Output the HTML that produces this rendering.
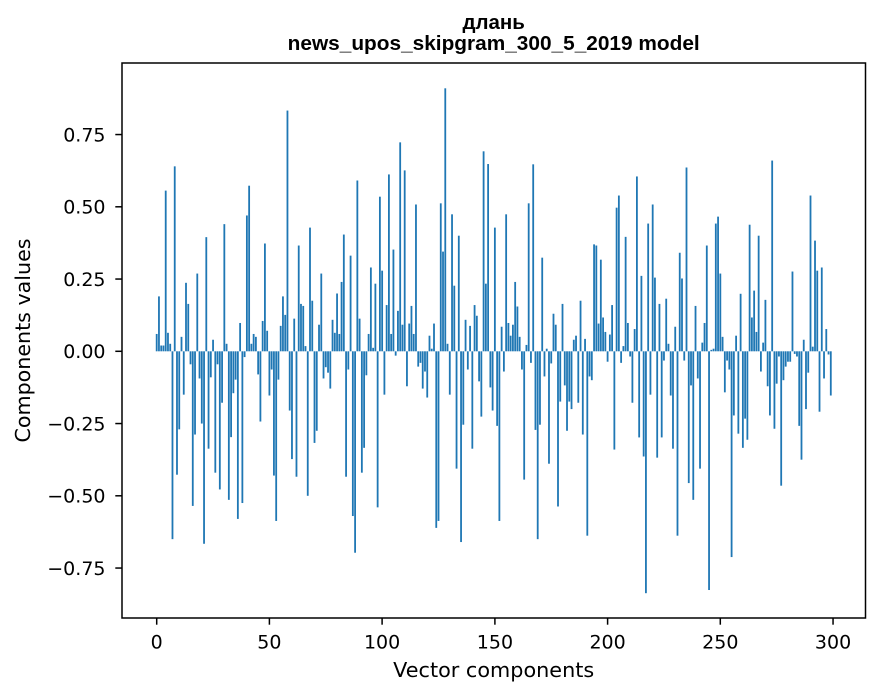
<!DOCTYPE html>
<html><head><meta charset="utf-8"><style>
html,body{margin:0;padding:0;background:#fff;}
svg{display:block;}
text{font-family:"DejaVu Sans","Liberation Sans",sans-serif;fill:#000;}
.ttl{font-family:"Liberation Sans","DejaVu Sans",sans-serif;font-weight:bold;}
</style></head><body>
<svg width="880" height="696" viewBox="0 0 880 696" xmlns="http://www.w3.org/2000/svg">
<rect x="0" y="0" width="880" height="696" fill="#fff"/>
<g transform="translate(155.795 351.3) scale(2.2545 -289)" fill="#1f77b4">
<rect x="0" y="0" width=".8" height=".06"/>
<rect x="1" y="0" width=".8" height=".19"/>
<rect x="2" y="0" width=".8" height=".02"/>
<rect x="3" y="0" width=".8" height=".02"/>
<rect x="4" y="0" width=".8" height=".556"/>
<rect x="5" y="0" width=".8" height=".064"/>
<rect x="6" y="0" width=".8" height=".026"/>
<rect x="7" y="-.65" width=".8" height=".65"/>
<rect x="8" y="0" width=".8" height=".64"/>
<rect x="9" y="-.427" width=".8" height=".427"/>
<rect x="10" y="-.27" width=".8" height=".27"/>
<rect x="11" y="0" width=".8" height=".05"/>
<rect x="12" y="-.15" width=".8" height=".15"/>
<rect x="13" y="0" width=".8" height=".237"/>
<rect x="14" y="0" width=".8" height=".164"/>
<rect x="15" y="-.045" width=".8" height=".045"/>
<rect x="16" y="-.535" width=".8" height=".535"/>
<rect x="17" y="-.288" width=".8" height=".288"/>
<rect x="18" y="0" width=".8" height=".269"/>
<rect x="19" y="-.094" width=".8" height=".094"/>
<rect x="20" y="-.25" width=".8" height=".25"/>
<rect x="21" y="-.666" width=".8" height=".666"/>
<rect x="22" y="0" width=".8" height=".395"/>
<rect x="23" y="-.337" width=".8" height=".337"/>
<rect x="24" y="-.09" width=".8" height=".09"/>
<rect x="25" y="0" width=".8" height=".04"/>
<rect x="26" y="-.42" width=".8" height=".42"/>
<rect x="27" y="-.045" width=".8" height=".045"/>
<rect x="28" y="-.478" width=".8" height=".478"/>
<rect x="29" y="-.178" width=".8" height=".178"/>
<rect x="30" y="0" width=".8" height=".44"/>
<rect x="31" y="0" width=".8" height=".026"/>
<rect x="32" y="-.514" width=".8" height=".514"/>
<rect x="33" y="-.297" width=".8" height=".297"/>
<rect x="34" y="-.145" width=".8" height=".145"/>
<rect x="35" y="-.098" width=".8" height=".098"/>
<rect x="36" y="-.58" width=".8" height=".58"/>
<rect x="37" y="0" width=".8" height=".098"/>
<rect x="38" y="-.525" width=".8" height=".525"/>
<rect x="39" y="-.02" width=".8" height=".02"/>
<rect x="40" y="0" width=".8" height=".47"/>
<rect x="41" y="0" width=".8" height=".573"/>
<rect x="42" y="0" width=".8" height=".026"/>
<rect x="43" y="0" width=".8" height=".06"/>
<rect x="44" y="0" width=".8" height=".05"/>
<rect x="45" y="-.08" width=".8" height=".08"/>
<rect x="46" y="-.243" width=".8" height=".243"/>
<rect x="47" y="0" width=".8" height=".105"/>
<rect x="48" y="0" width=".8" height=".373"/>
<rect x="49" y="0" width=".8" height=".071"/>
<rect x="50" y="-.153" width=".8" height=".153"/>
<rect x="51" y="-.063" width=".8" height=".063"/>
<rect x="52" y="-.43" width=".8" height=".43"/>
<rect x="53" y="-.587" width=".8" height=".587"/>
<rect x="54" y="-.098" width=".8" height=".098"/>
<rect x="55" y="0" width=".8" height=".088"/>
<rect x="56" y="0" width=".8" height=".19"/>
<rect x="57" y="0" width=".8" height=".126"/>
<rect x="58" y="0" width=".8" height=".833"/>
<rect x="59" y="-.205" width=".8" height=".205"/>
<rect x="60" y="-.373" width=".8" height=".373"/>
<rect x="61" y="0" width=".8" height=".113"/>
<rect x="62" y="-.434" width=".8" height=".434"/>
<rect x="63" y="0" width=".8" height=".366"/>
<rect x="64" y="0" width=".8" height=".164"/>
<rect x="65" y="0" width=".8" height=".157"/>
<rect x="66" y="0" width=".8" height=".018"/>
<rect x="67" y="-.5" width=".8" height=".5"/>
<rect x="68" y="0" width=".8" height=".428"/>
<rect x="69" y="0" width=".8" height=".175"/>
<rect x="70" y="-.317" width=".8" height=".317"/>
<rect x="71" y="-.275" width=".8" height=".275"/>
<rect x="72" y="0" width=".8" height=".092"/>
<rect x="73" y="0" width=".8" height=".269"/>
<rect x="74" y="-.094" width=".8" height=".094"/>
<rect x="75" y="-.055" width=".8" height=".055"/>
<rect x="76" y="-.074" width=".8" height=".074"/>
<rect x="77" y="-.129" width=".8" height=".129"/>
<rect x="78" y="0" width=".8" height=".109"/>
<rect x="79" y="0" width=".8" height=".064"/>
<rect x="80" y="0" width=".8" height=".2"/>
<rect x="81" y="0" width=".8" height=".06"/>
<rect x="82" y="0" width=".8" height=".24"/>
<rect x="83" y="0" width=".8" height=".404"/>
<rect x="84" y="-.434" width=".8" height=".434"/>
<rect x="85" y="-.063" width=".8" height=".063"/>
<rect x="86" y="0" width=".8" height=".331"/>
<rect x="87" y="-.57" width=".8" height=".57"/>
<rect x="88" y="-.697" width=".8" height=".697"/>
<rect x="89" y="0" width=".8" height=".591"/>
<rect x="90" y="0" width=".8" height=".113"/>
<rect x="91" y="-.42" width=".8" height=".42"/>
<rect x="92" y="-.334" width=".8" height=".334"/>
<rect x="93" y="-.083" width=".8" height=".083"/>
<rect x="94" y="0" width=".8" height=".06"/>
<rect x="95" y="0" width=".8" height=".29"/>
<rect x="96" y="0" width=".8" height=".012"/>
<rect x="97" y="0" width=".8" height=".234"/>
<rect x="98" y="-.54" width=".8" height=".54"/>
<rect x="99" y="0" width=".8" height=".535"/>
<rect x="100" y="0" width=".8" height=".279"/>
<rect x="101" y="-.15" width=".8" height=".15"/>
<rect x="102" y="0" width=".8" height=".16"/>
<rect x="103" y="0" width=".8" height=".612"/>
<rect x="104" y="0" width=".8" height=".06"/>
<rect x="105" y="0" width=".8" height=".352"/>
<rect x="106" y="-.015" width=".8" height=".015"/>
<rect x="107" y="0" width=".8" height=".14"/>
<rect x="108" y="0" width=".8" height=".723"/>
<rect x="109" y="0" width=".8" height=".092"/>
<rect x="110" y="0" width=".8" height=".626"/>
<rect x="111" y="-.121" width=".8" height=".121"/>
<rect x="112" y="0" width=".8" height=".096"/>
<rect x="113" y="0" width=".8" height=".157"/>
<rect x="114" y="0" width=".8" height=".06"/>
<rect x="115" y="0" width=".8" height=".508"/>
<rect x="116" y="-.053" width=".8" height=".053"/>
<rect x="117" y="-.04" width=".8" height=".04"/>
<rect x="118" y="-.129" width=".8" height=".129"/>
<rect x="119" y="-.07" width=".8" height=".07"/>
<rect x="120" y="-.16" width=".8" height=".16"/>
<rect x="121" y="0" width=".8" height=".054"/>
<rect x="122" y="0" width=".8" height=".009"/>
<rect x="123" y="0" width=".8" height=".096"/>
<rect x="124" y="-.611" width=".8" height=".611"/>
<rect x="125" y="-.587" width=".8" height=".587"/>
<rect x="126" y="0" width=".8" height=".512"/>
<rect x="127" y="0" width=".8" height=".345"/>
<rect x="128" y="0" width=".8" height=".91"/>
<rect x="129" y="0" width=".8" height=".026"/>
<rect x="130" y="-.15" width=".8" height=".15"/>
<rect x="131" y="0" width=".8" height=".474"/>
<rect x="132" y="0" width=".8" height=".227"/>
<rect x="133" y="-.406" width=".8" height=".406"/>
<rect x="134" y="0" width=".8" height=".4"/>
<rect x="135" y="-.66" width=".8" height=".66"/>
<rect x="136" y="-.254" width=".8" height=".254"/>
<rect x="137" y="0" width=".8" height=".109"/>
<rect x="138" y="-.063" width=".8" height=".063"/>
<rect x="139" y="0" width=".8" height=".088"/>
<rect x="140" y="-.337" width=".8" height=".337"/>
<rect x="141" y="0" width=".8" height=".16"/>
<rect x="142" y="0" width=".8" height=".123"/>
<rect x="143" y="-.104" width=".8" height=".104"/>
<rect x="144" y="-.226" width=".8" height=".226"/>
<rect x="145" y="0" width=".8" height=".692"/>
<rect x="146" y="0" width=".8" height=".234"/>
<rect x="147" y="0" width=".8" height=".648"/>
<rect x="148" y="-.125" width=".8" height=".125"/>
<rect x="149" y="-.205" width=".8" height=".205"/>
<rect x="150" y="0" width=".8" height=".428"/>
<rect x="151" y="-.258" width=".8" height=".258"/>
<rect x="152" y="-.587" width=".8" height=".587"/>
<rect x="153" y="0" width=".8" height=".085"/>
<rect x="154" y="-.07" width=".8" height=".07"/>
<rect x="155" y="0" width=".8" height=".474"/>
<rect x="156" y="0" width=".8" height=".098"/>
<rect x="157" y="0" width=".8" height=".054"/>
<rect x="158" y="0" width=".8" height=".092"/>
<rect x="159" y="0" width=".8" height=".24"/>
<rect x="160" y="0" width=".8" height=".155"/>
<rect x="161" y="0" width=".8" height=".05"/>
<rect x="162" y="-.063" width=".8" height=".063"/>
<rect x="163" y="-.444" width=".8" height=".444"/>
<rect x="164" y="0" width=".8" height=".022"/>
<rect x="165" y="0" width=".8" height=".512"/>
<rect x="166" y="-.04" width=".8" height=".04"/>
<rect x="167" y="0" width=".8" height=".647"/>
<rect x="168" y="-.272" width=".8" height=".272"/>
<rect x="169" y="-.65" width=".8" height=".65"/>
<rect x="170" y="-.254" width=".8" height=".254"/>
<rect x="171" y="0" width=".8" height=".324"/>
<rect x="172" y="-.087" width=".8" height=".087"/>
<rect x="173" y="0" width=".8" height=".009"/>
<rect x="174" y="-.389" width=".8" height=".389"/>
<rect x="175" y="-.042" width=".8" height=".042"/>
<rect x="176" y="0" width=".8" height=".13"/>
<rect x="177" y="0" width=".8" height=".092"/>
<rect x="178" y="-.537" width=".8" height=".537"/>
<rect x="179" y="-.174" width=".8" height=".174"/>
<rect x="180" y="0" width=".8" height=".164"/>
<rect x="181" y="-.118" width=".8" height=".118"/>
<rect x="182" y="-.275" width=".8" height=".275"/>
<rect x="183" y="-.174" width=".8" height=".174"/>
<rect x="184" y="-.2" width=".8" height=".2"/>
<rect x="185" y="0" width=".8" height=".04"/>
<rect x="186" y="0" width=".8" height=".054"/>
<rect x="187" y="-.178" width=".8" height=".178"/>
<rect x="188" y="0" width=".8" height=".175"/>
<rect x="189" y="-.288" width=".8" height=".288"/>
<rect x="190" y="0" width=".8" height=".043"/>
<rect x="191" y="-.638" width=".8" height=".638"/>
<rect x="192" y="-.087" width=".8" height=".087"/>
<rect x="193" y="-.1" width=".8" height=".1"/>
<rect x="194" y="0" width=".8" height=".37"/>
<rect x="195" y="0" width=".8" height=".366"/>
<rect x="196" y="0" width=".8" height=".096"/>
<rect x="197" y="0" width=".8" height=".317"/>
<rect x="198" y="0" width=".8" height=".117"/>
<rect x="199" y="0" width=".8" height=".067"/>
<rect x="200" y="-.036" width=".8" height=".036"/>
<rect x="201" y="0" width=".8" height=".058"/>
<rect x="202" y="0" width=".8" height=".16"/>
<rect x="203" y="-.34" width=".8" height=".34"/>
<rect x="204" y="0" width=".8" height=".497"/>
<rect x="205" y="0" width=".8" height=".539"/>
<rect x="206" y="-.04" width=".8" height=".04"/>
<rect x="207" y="0" width=".8" height=".018"/>
<rect x="208" y="0" width=".8" height=".396"/>
<rect x="209" y="0" width=".8" height=".098"/>
<rect x="210" y="-.018" width=".8" height=".018"/>
<rect x="211" y="-.178" width=".8" height=".178"/>
<rect x="212" y="0" width=".8" height=".077"/>
<rect x="213" y="0" width=".8" height=".605"/>
<rect x="214" y="-.298" width=".8" height=".298"/>
<rect x="215" y="0" width=".8" height=".261"/>
<rect x="216" y="-.364" width=".8" height=".364"/>
<rect x="217" y="-.837" width=".8" height=".837"/>
<rect x="218" y="0" width=".8" height=".442"/>
<rect x="219" y="-.15" width=".8" height=".15"/>
<rect x="220" y="0" width=".8" height=".508"/>
<rect x="221" y="0" width=".8" height=".255"/>
<rect x="222" y="-.368" width=".8" height=".368"/>
<rect x="223" y="0" width=".8" height=".164"/>
<rect x="224" y="-.298" width=".8" height=".298"/>
<rect x="225" y="-.032" width=".8" height=".032"/>
<rect x="226" y="0" width=".8" height=".182"/>
<rect x="227" y="0" width=".8" height=".026"/>
<rect x="228" y="-.153" width=".8" height=".153"/>
<rect x="229" y="-.337" width=".8" height=".337"/>
<rect x="230" y="0" width=".8" height=".085"/>
<rect x="231" y="-.638" width=".8" height=".638"/>
<rect x="232" y="0" width=".8" height=".341"/>
<rect x="233" y="0" width=".8" height=".252"/>
<rect x="234" y="-.032" width=".8" height=".032"/>
<rect x="235" y="0" width=".8" height=".636"/>
<rect x="236" y="-.456" width=".8" height=".456"/>
<rect x="237" y="-.118" width=".8" height=".118"/>
<rect x="238" y="-.514" width=".8" height=".514"/>
<rect x="239" y="0" width=".8" height=".157"/>
<rect x="240" y="-.094" width=".8" height=".094"/>
<rect x="241" y="-.406" width=".8" height=".406"/>
<rect x="242" y="0" width=".8" height=".03"/>
<rect x="243" y="0" width=".8" height=".098"/>
<rect x="244" y="0" width=".8" height=".366"/>
<rect x="245" y="-.826" width=".8" height=".826"/>
<rect x="246" y="0" width=".8" height=".005"/>
<rect x="247" y="0" width=".8" height=".009"/>
<rect x="248" y="0" width=".8" height=".442"/>
<rect x="249" y="0" width=".8" height=".466"/>
<rect x="250" y="0" width=".8" height=".269"/>
<rect x="251" y="0" width=".8" height=".05"/>
<rect x="252" y="-.142" width=".8" height=".142"/>
<rect x="253" y="-.032" width=".8" height=".032"/>
<rect x="254" y="-.063" width=".8" height=".063"/>
<rect x="255" y="-.712" width=".8" height=".712"/>
<rect x="256" y="-.222" width=".8" height=".222"/>
<rect x="257" y="0" width=".8" height=".054"/>
<rect x="258" y="-.285" width=".8" height=".285"/>
<rect x="259" y="0" width=".8" height=".199"/>
<rect x="260" y="-.334" width=".8" height=".334"/>
<rect x="261" y="-.233" width=".8" height=".233"/>
<rect x="262" y="-.306" width=".8" height=".306"/>
<rect x="263" y="0" width=".8" height=".438"/>
<rect x="264" y="0" width=".8" height=".117"/>
<rect x="265" y="0" width=".8" height=".21"/>
<rect x="266" y="0" width=".8" height=".067"/>
<rect x="267" y="0" width=".8" height=".4"/>
<rect x="268" y="-.07" width=".8" height=".07"/>
<rect x="269" y="0" width=".8" height=".03"/>
<rect x="270" y="0" width=".8" height=".178"/>
<rect x="271" y="-.121" width=".8" height=".121"/>
<rect x="272" y="-.222" width=".8" height=".222"/>
<rect x="273" y="0" width=".8" height=".66"/>
<rect x="274" y="-.268" width=".8" height=".268"/>
<rect x="275" y="-.112" width=".8" height=".112"/>
<rect x="276" y="-.018" width=".8" height=".018"/>
<rect x="277" y="-.465" width=".8" height=".465"/>
<rect x="278" y="-.1" width=".8" height=".1"/>
<rect x="279" y="-.053" width=".8" height=".053"/>
<rect x="280" y="-.036" width=".8" height=".036"/>
<rect x="281" y="-.036" width=".8" height=".036"/>
<rect x="282" y="0" width=".8" height=".276"/>
<rect x="283" y="-.009" width=".8" height=".009"/>
<rect x="284" y="-.018" width=".8" height=".018"/>
<rect x="285" y="-.258" width=".8" height=".258"/>
<rect x="286" y="-.375" width=".8" height=".375"/>
<rect x="287" y="0" width=".8" height=".04"/>
<rect x="288" y="-.2" width=".8" height=".2"/>
<rect x="289" y="-.074" width=".8" height=".074"/>
<rect x="290" y="0" width=".8" height=".539"/>
<rect x="291" y="0" width=".8" height=".016"/>
<rect x="292" y="0" width=".8" height=".383"/>
<rect x="293" y="0" width=".8" height=".279"/>
<rect x="294" y="-.209" width=".8" height=".209"/>
<rect x="295" y="0" width=".8" height=".29"/>
<rect x="296" y="-.094" width=".8" height=".094"/>
<rect x="297" y="0" width=".8" height=".077"/>
<rect x="298" y="-.011" width=".8" height=".011"/>
<rect x="299" y="-.153" width=".8" height=".153"/>
</g>
<rect x="122" y="63" width="743.5" height="555" fill="none" stroke="#000" stroke-width="1.5"/>
<g stroke="#000" stroke-width="1.5">
<line x1="156.7" y1="618" x2="156.7" y2="624.7"/>
<line x1="269.4" y1="618" x2="269.4" y2="624.7"/>
<line x1="382.1" y1="618" x2="382.1" y2="624.7"/>
<line x1="494.9" y1="618" x2="494.9" y2="624.7"/>
<line x1="607.6" y1="618" x2="607.6" y2="624.7"/>
<line x1="720.3" y1="618" x2="720.3" y2="624.7"/>
<line x1="833.05" y1="618" x2="833.05" y2="624.7"/>
<line x1="122" y1="134.55" x2="115.3" y2="134.55"/>
<line x1="122" y1="206.8" x2="115.3" y2="206.8"/>
<line x1="122" y1="279.05" x2="115.3" y2="279.05"/>
<line x1="122" y1="351.3" x2="115.3" y2="351.3"/>
<line x1="122" y1="423.55" x2="115.3" y2="423.55"/>
<line x1="122" y1="495.8" x2="115.3" y2="495.8"/>
<line x1="122" y1="568.05" x2="115.3" y2="568.05"/>
</g>
<g font-size="19" text-anchor="middle">
<text x="156.7" y="648.5">0</text>
<text x="269.4" y="648.5">50</text>
<text x="382.1" y="648.5">100</text>
<text x="494.9" y="648.5">150</text>
<text x="607.6" y="648.5">200</text>
<text x="720.3" y="648.5">250</text>
<text x="833.05" y="648.5">300</text>
</g>
<g font-size="19" text-anchor="end">
<text x="105.5" y="141.4">0.75</text>
<text x="105.5" y="213.7">0.50</text>
<text x="105.5" y="285.9">0.25</text>
<text x="105.5" y="358.2">0.00</text>
<text x="105.5" y="430.4">−0.25</text>
<text x="105.5" y="502.7">−0.50</text>
<text x="105.5" y="574.9">−0.75</text>
</g>
<text x="493.7" y="677" font-size="20.6" text-anchor="middle" textLength="201" lengthAdjust="spacingAndGlyphs">Vector components</text>
<text transform="translate(30 340.5) rotate(-90)" font-size="20.6" text-anchor="middle" textLength="204" lengthAdjust="spacingAndGlyphs">Components values</text>
<text class="ttl" x="493.7" y="29" font-size="20.5" text-anchor="middle">длань</text>
<text class="ttl" x="493.7" y="50" font-size="20.5" text-anchor="middle" textLength="412" lengthAdjust="spacingAndGlyphs">news_upos_skipgram_300_5_2019 model</text>
</svg>
</body></html>
